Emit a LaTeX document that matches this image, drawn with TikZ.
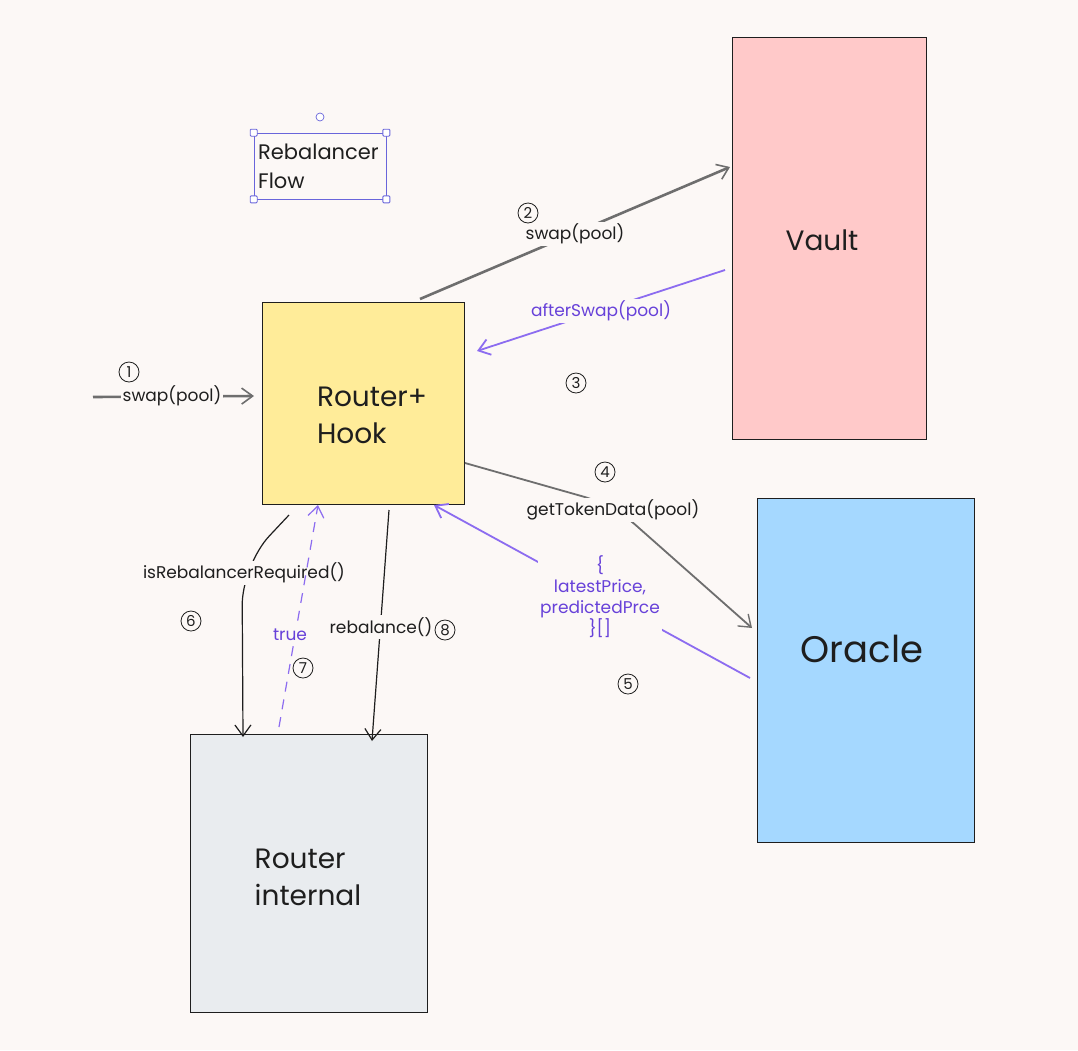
\documentclass[tikz,border=0pt]{standalone}
\usepackage{fontspec}
\setmainfont{Poppins}
\usetikzlibrary{arrows.meta,calc}
\definecolor{bg}{HTML}{FCF8F6}
\definecolor{ink}{HTML}{1E1E1E}
\definecolor{grayline}{HTML}{6E6E6E}
\definecolor{purpline}{HTML}{8C6CF0}
\definecolor{purptext}{HTML}{6741D9}
\definecolor{selc}{HTML}{6965DB}
\definecolor{yellowc}{HTML}{FFEC99}
\definecolor{pinkc}{HTML}{FFC9C9}
\definecolor{bluec}{HTML}{A5D8FF}
\definecolor{grayc}{HTML}{E9ECEF}
\tikzset{
  box/.style={draw=ink, line width=0.9pt, inner sep=0pt},
  bigtxt/.style={font=\fontsize{28}{37}\selectfont, text=ink, align=left, inner sep=0pt},
  lbl/.style={font=\fontsize{17}{20}\selectfont, text=ink, fill=bg, inner sep=2pt},
  plbl/.style={font=\fontsize{17}{21}\selectfont, text=purptext, fill=bg, inner sep=2pt, align=center},
  numc/.style={circle, draw=ink, line width=0.8pt, inner sep=0pt, minimum size=20pt, font=\fontsize{15}{15}\selectfont, text=ink},
  arr/.style={draw=ink, line width=1.2pt, -{Straight Barb[length=11pt,width=16pt]}},
  garr/.style={draw=grayline, line width=2.6pt, -{Straight Barb[length=11pt,width=16pt,line width=1.6pt]}},
  parr/.style={draw=purpline, line width=1.8pt, -{Straight Barb[length=11pt,width=16pt]}},
  handle/.style={draw=selc, fill=white, line width=0.8pt, minimum size=7pt, inner sep=0pt, rectangle, rounded corners=1pt},
}
\begin{document}
\begin{tikzpicture}[x=1pt,y=-1pt]
\fill[bg] (0,0) rectangle (1078,1050);
\useasboundingbox (0,0) rectangle (1078,1050);

% boxes
\node[box, fill=yellowc, minimum width=202pt, minimum height=202pt] (rh) at (363,403) {};
\node[box, fill=pinkc, minimum width=194pt, minimum height=402pt] (vault) at (829,238) {};
\node[box, fill=bluec, minimum width=217pt, minimum height=344pt] (oracle) at (865.5,670) {};
\node[box, fill=grayc, minimum width=237pt, minimum height=278pt] (ri) at (308.5,873) {};

\node[bigtxt] (rht) at (372,415) {Router+\\Hook};
\node[bigtxt] (vt) at (822,240) {Vault};
\node[bigtxt, font=\fontsize{37}{40}\selectfont] (ot) at (862,649) {Oracle};
\node[bigtxt] (rit) at (308,877) {Router\\internal};

% title with selection
\node[draw=selc, line width=0.7pt, minimum width=132pt, minimum height=66pt] (sel) at (320,166) {};
\node[font=\fontsize{21}{29}\selectfont, text=ink, align=left, anchor=west, inner sep=0pt] (title) at (258,166) {Rebalancer\\Flow};
\node[handle] (h1) at (sel.north west) {};
\node[handle] (h2) at (sel.north east) {};
\node[handle] (h3) at (sel.south west) {};
\node[handle] (h4) at (sel.south east) {};
\node[circle, draw=selc, fill=white, line width=0.7pt, minimum size=8pt, inner sep=0pt] (rot) at (320,117) {};

% anchor coordinates
\coordinate (in1) at (93,397);
\coordinate (rhL) at (254,396);
\coordinate (rhT) at (420,299);
\coordinate (vaL) at (730,167);
\coordinate (vaL2) at (725,270);
\coordinate (rhR) at (477,351);
\coordinate (rhR2) at (465,463);
\coordinate (orL) at (752,628);
\coordinate (orL2) at (750,678);
\coordinate (rhB5) at (434,505);
\coordinate (rhB6) at (289,515);
\coordinate (riT6) at (243,737);
\coordinate (riT7) at (279,727);
\coordinate (rhB7) at (318,505);
\coordinate (rhB8) at (389,510);
\coordinate (riT8) at (372,741);

% 1
\draw[garr] (in1) -- (rhL);
\node[lbl] (l1) at (172,396) {swap(pool)};
\node[numc] (n1) at (129,372) {1};
% 2
\draw[garr] (rhT) -- (vaL);
\node[lbl] (l2) at (575,234) {swap(pool)};
\node[numc] (n2) at (528,213) {2};
% 3
\draw[parr] (vaL2) -- (rhR);
\node[plbl] (l3) at (601,311) {afterSwap(pool)};
\node[numc] (n3) at (576,383) {3};
% 4
\draw[draw=grayline, line width=1.8pt, -{Straight Barb[length=11pt,width=16pt,line width=1.4pt]}, rounded corners=30pt] (rhR2) -- (613,505) -- (orL);
\node[lbl] (l4) at (613,510) {getTokenData(pool)};
\node[numc] (n4) at (605,472) {4};
% 5
\draw[parr] (orL2) -- (rhB5);
\node[plbl] (l5) at (600,597) {\{\\latestPrice,\\predictedPrce\\\}[]};
\node[numc] (n5) at (628,684) {5};
% 6
\draw[arr, rounded corners=40pt] (rhB6) -- (242,565) -- (riT6);
\node[lbl] (l6) at (244,573) {isRebalancerRequired()};
\node[numc] (n6) at (191,621) {6};
% 7
\draw[parr, line width=1.2pt, dashed, dash pattern=on 10pt off 8pt] (riT7) -- (rhB7);
\node[plbl] (l7) at (290,635) {true};
\node[numc] (n7) at (303,668) {7};
% 8
\draw[arr] (rhB8) -- (riT8);
\node[lbl] (l8) at (381,627) {rebalance()};
\node[numc] (n8) at (445,630) {8};
\end{tikzpicture}
\end{document}
